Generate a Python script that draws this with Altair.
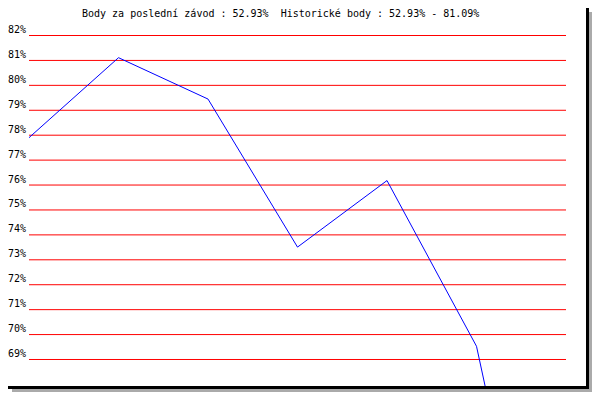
import altair as alt
import pandas as pd

# data
race_index = [0, 1, 2, 3, 4, 5, 6]
points_pct = [77.88, 81.09, 79.43, 73.49, 76.16, 69.51, 52.93]
tick_values = [69, 70, 71, 72, 73, 74, 75, 76, 77, 78, 79, 80, 81, 82]
tick_labels = [f"{v}%" for v in tick_values]
title_text = "Body za poslední závod : 52.93%\u00a0 Historické body : 52.93% - 81.09%"

FONT = "DejaVu Sans Mono"
W, H = 537, 351
# view origin is at absolute page pixel (29, 35)
OX, OY = 29, 35
PX_PER_PCT = 24.923

line_df = pd.DataFrame({"idx": race_index, "pct": points_pct})
tick_df = pd.DataFrame({"v": tick_values, "lab": tick_labels})
one = pd.DataFrame({"a": [0]})

yscale = alt.Scale(domain=[82 - H / PX_PER_PCT, 82], nice=False, zero=False)
xscale = alt.Scale(domain=[0, 6], nice=False, zero=False)


def box(x1, y1, x2, y2, color):
    return alt.Chart(one).mark_rect(color=color, strokeWidth=0).encode(
        x=alt.value(x1 - OX), x2=alt.value(x2 - OX),
        y=alt.value(y1 - OY), y2=alt.value(y2 - OY))


black_r = box(586, 8, 589, 389, "#000000")
black_b = box(8, 386, 589, 389, "#000000")
shadow_r = box(589, 12, 592, 392, "#aaaaaa")
shadow_b = box(12, 389, 592, 392, "#aaaaaa")

grid = alt.Chart(tick_df).mark_rule(color="#ff0000", strokeWidth=1, yOffset=0.5).encode(
    y=alt.Y("v:Q", scale=yscale, axis=None),
    x=alt.value(0), x2=alt.value(W))

labels = alt.Chart(tick_df).mark_text(
    font=FONT, fontSize=10, align="left", baseline="alphabetic", dy=-2, color="#000000"
).encode(
    y=alt.Y("v:Q", scale=yscale, axis=None),
    x=alt.value(8 - OX),
    text="lab:N")

line = alt.Chart(line_df).mark_line(color="#0000ff", strokeWidth=1, clip=True).encode(
    x=alt.X("idx:Q", scale=xscale, axis=None),
    y=alt.Y("pct:Q", scale=yscale, axis=None))

title = alt.Chart(one).mark_text(
    font=FONT, fontSize=10, align="left", baseline="alphabetic", color="#000000",
    text=title_text
).encode(x=alt.value(82 - OX), y=alt.value(17 - OY))

chart = alt.layer(grid, labels, line, black_r, black_b, shadow_r, shadow_b, title).properties(
    width=W, height=H,
    autosize=alt.AutoSizeParams(type="none"),
    padding={"left": 21, "top": 27, "right": 26, "bottom": 6},
    background="#ffffff",
).configure_view(strokeWidth=0)

chart.save("out.html", embed_options={"renderer": "svg", "actions": False})
